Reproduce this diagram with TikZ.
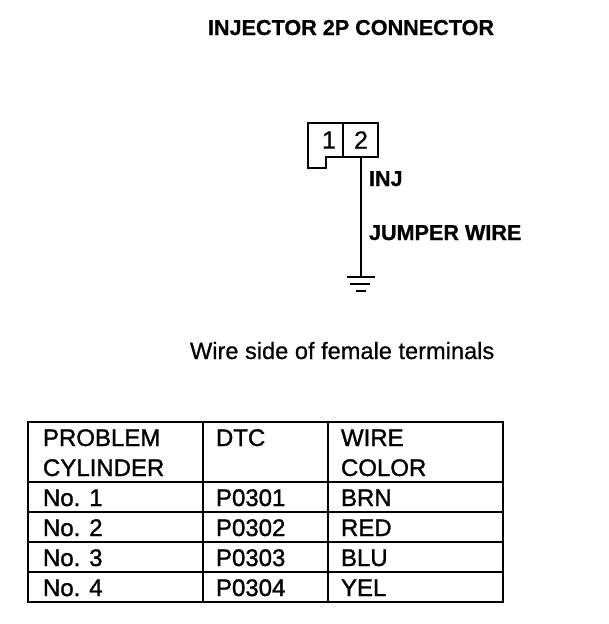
\documentclass[tikz,border=0pt]{standalone}
\usepackage{fontspec}
\setmainfont{Liberation Sans}
\newfontfamily\heavyfont[FakeBold=1.2]{Liberation Sans}
\newfontfamily\medfont[FakeBold=0.6]{Liberation Sans}
\newfontfamily\titlefont[FakeBold=0.8]{Liberation Sans Bold}
\tikzset{
  x=1pt,y=-1pt,
  line/.style={draw=black,line width=1.8pt},
  thin line/.style={draw=black,line width=1.5pt},
  lbl/.style={anchor=base west,inner sep=0pt,outer sep=0pt,text=black},
  title/.style={lbl,font=\titlefont\fontsize{21.6}{24}\selectfont},
  body/.style={lbl,font=\medfont\fontsize{23.6}{26}\selectfont},
  cell/.style={lbl,font=\heavyfont\fontsize{24}{26}\selectfont},
  pin/.style={anchor=center,inner sep=0pt,font=\medfont\fontsize{25}{26}\selectfont},
}
\begin{document}
\begin{tikzpicture}
\useasboundingbox (0,0) rectangle (608,624);
\fill[white] (0,0) rectangle (608,624);
% connector
\draw[line,line width=2.8pt] (343,123) -- (308,123) -- (308,168) -- (326,168) -- (326,157) -- (343,157);
\node[line,line width=2.8pt,rectangle,minimum width=35pt,minimum height=34pt,inner sep=0pt,outer sep=0pt] (p2) at (360.5,140) {};
\node[pin] (t1) at (329,140) {1};
\node[pin] at (361,140) {2};
\coordinate (g) at (361,277);
\draw[line] (p2.south -| g) -- (g);
\draw[line] (347,277) -- (375,277);
\draw[line] (350,284) -- (370,284);
\draw[line] (356,291) -- (366,291);
% labels
\node[title] (ttl) at (208,35) {INJECTOR 2P CONNECTOR};
\node[title] (inj) at (369,186) {INJ};
\node[title] (jw) at (369,240) {JUMPER WIRE};
\node[body] (cap) at (190,359) {Wire side of female terminals};
% table
\draw[line] (28,422) rectangle (503,602);
\draw[thin line] (203,422) -- (203,602);
\draw[line] (328,422) -- (328,602);
\foreach \yy in {482,512,542,572} \draw[thin line] (28,\yy) -- (503,\yy);
\node[cell] at (43,446) {PROBLEM};
\node[cell] at (43,476) {CYLINDER};
\node[cell] at (216,446) {DTC};
\node[cell] at (341,446) {WIRE};
\node[cell] at (341,476) {COLOR};
\node[cell] at (43,506) {No. 1};
\node[cell] at (216,506) {P0301};
\node[cell] at (341,506) {BRN};
\node[cell] at (43,536) {No. 2};
\node[cell] at (216,536) {P0302};
\node[cell] at (341,536) {RED};
\node[cell] at (43,566) {No. 3};
\node[cell] at (216,566) {P0303};
\node[cell] at (341,566) {BLU};
\node[cell] at (43,596) {No. 4};
\node[cell] at (216,596) {P0304};
\node[cell] at (341,596) {YEL};
\end{tikzpicture}
\end{document}
